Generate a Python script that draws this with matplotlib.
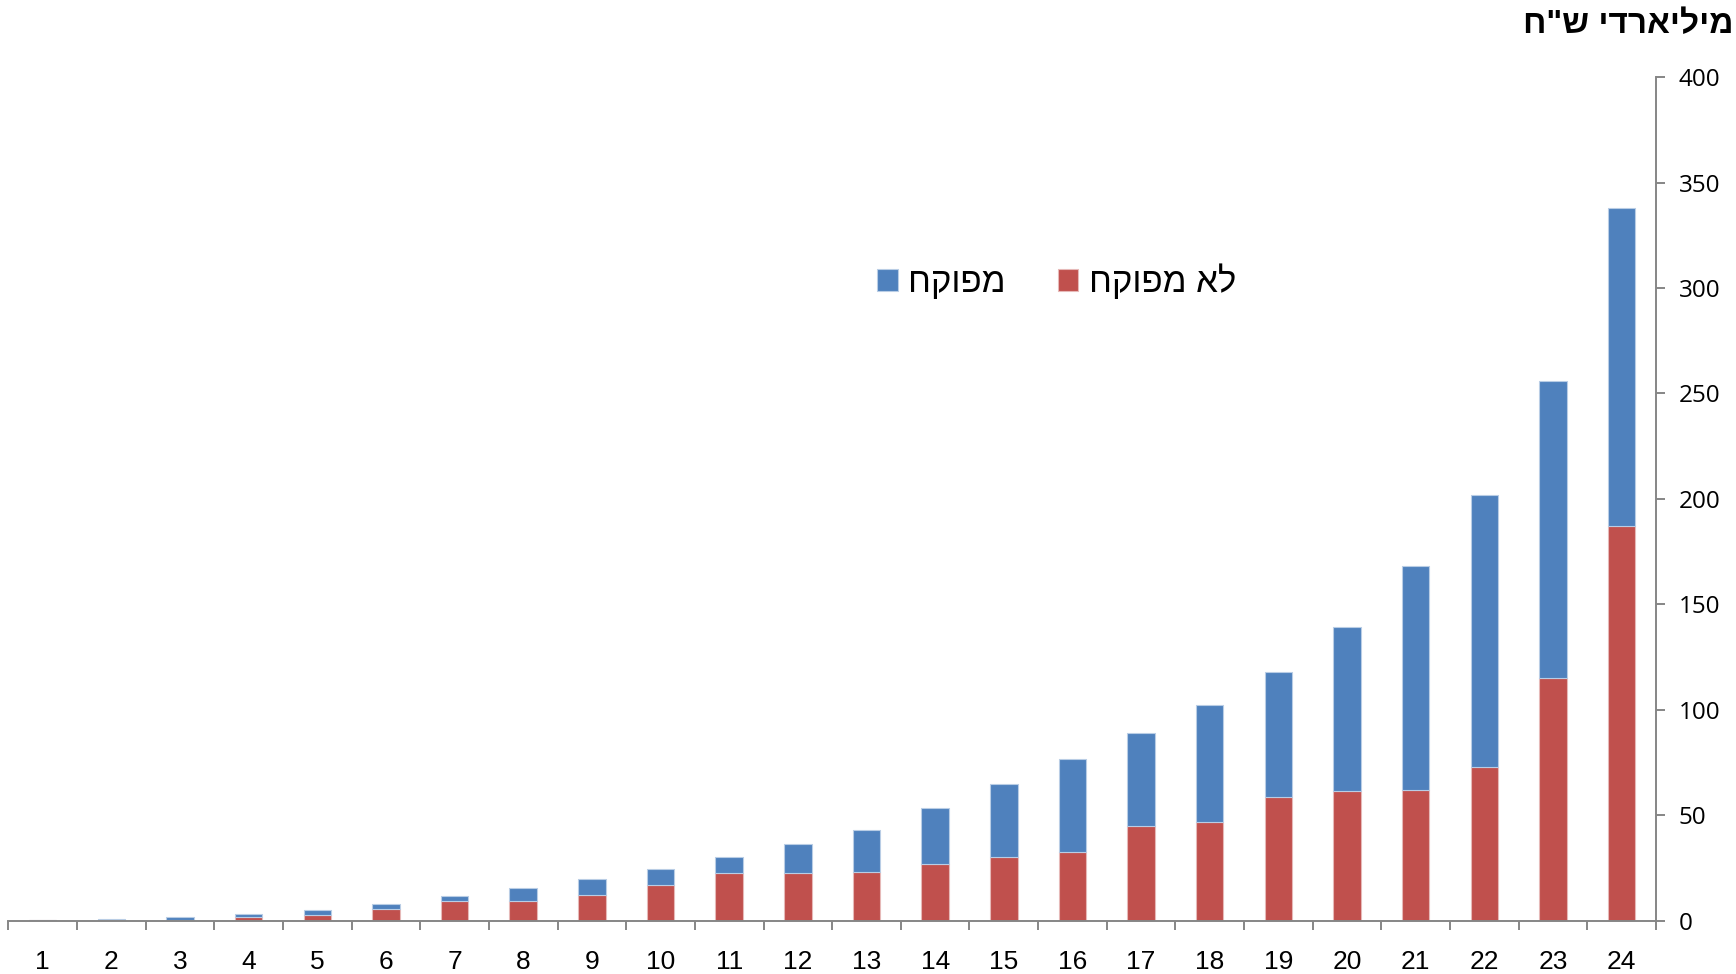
import matplotlib.pyplot as plt
import numpy as np

# values in billions NIS
years = [str(i) for i in range(1, 25)]
unregulated = [0.2, 0.3, 0.5, 1.6, 2.7, 5.7, 9.5, 9.5, 12.3, 16.8, 22.6, 22.6,
               22.9, 26.9, 30.0, 32.7, 45.1, 46.8, 58.5, 61.4, 61.8, 72.7, 114.9, 187.3]
regulated = [0.1, 0.5, 1.4, 1.7, 2.2, 2.2, 2.2, 5.9, 7.5, 7.5, 7.4, 13.9,
             20.1, 26.5, 34.8, 44.1, 44.0, 55.3, 59.4, 77.9, 106.4, 129.2, 140.9, 150.7]
y_ticks = [0, 50, 100, 150, 200, 250, 300, 350, 400]

label_regulated = "מפוקח"
label_unregulated = "לא מפוקח"
y_title = 'מיליארדי ש"ח'

def rtl(s):
    # matplotlib has no bidi support, flip hebrew by hand
    return s[::-1]

fonts = ['Liberation Sans', 'DejaVu Sans']
plt.rcParams['font.family'] = fonts

fig = plt.figure(figsize=(17.36, 9.74), dpi=100)
ax = fig.add_axes([0.0048, 0.0547, 0.9491, 0.8662])

x = np.arange(len(years))
b1 = ax.bar(x, unregulated, width=0.4, color='#C0504D', edgecolor='#E6B9B8', linewidth=0.8)
b2 = ax.bar(x, regulated, width=0.4, bottom=unregulated, color='#4F81BD', edgecolor='#B9CDE5', linewidth=0.8)

ax.set_xlim(-0.5, len(years) - 0.5)
ax.set_ylim(0, 400)

grey = '#868686'
for side in ['left', 'top']:
    ax.spines[side].set_visible(False)
ax.spines['right'].set_color(grey)
ax.spines['bottom'].set_color(grey)
ax.spines['right'].set_linewidth(1.4)
ax.spines['bottom'].set_linewidth(1.4)

ax.yaxis.tick_right()
ax.set_yticks(y_ticks)
ax.set_yticklabels([str(v) for v in y_ticks], fontsize=17.5, family=['Open Sans', 'DejaVu Sans'])
ax.tick_params(axis='y', direction='out', length=6.5, width=1.4, color=grey, pad=10)

ax.set_xticks(x)
ax.set_xticklabels(years, fontsize=19)
ax.set_xticks(np.arange(-0.5, len(years)), minor=True)
ax.tick_params(axis='x', which='major', length=0, pad=21)
ax.tick_params(axis='x', which='minor', direction='out', length=6.5, width=1.4, color=grey)

fig.text(0.9985, 0.975, rtl(y_title), ha='right', va='center', fontsize=24, fontweight='bold')

ax.legend([b2, b1], [rtl(label_regulated), rtl(label_unregulated)], ncol=2, frameon=False,
          loc='center', bbox_to_anchor=(0.6085, 0.7115), bbox_transform=fig.transFigure,
          fontsize=25, handlelength=0.6, handleheight=0.6, handletextpad=0.3, columnspacing=1.5)

fig.savefig('out.png', dpi=100)
